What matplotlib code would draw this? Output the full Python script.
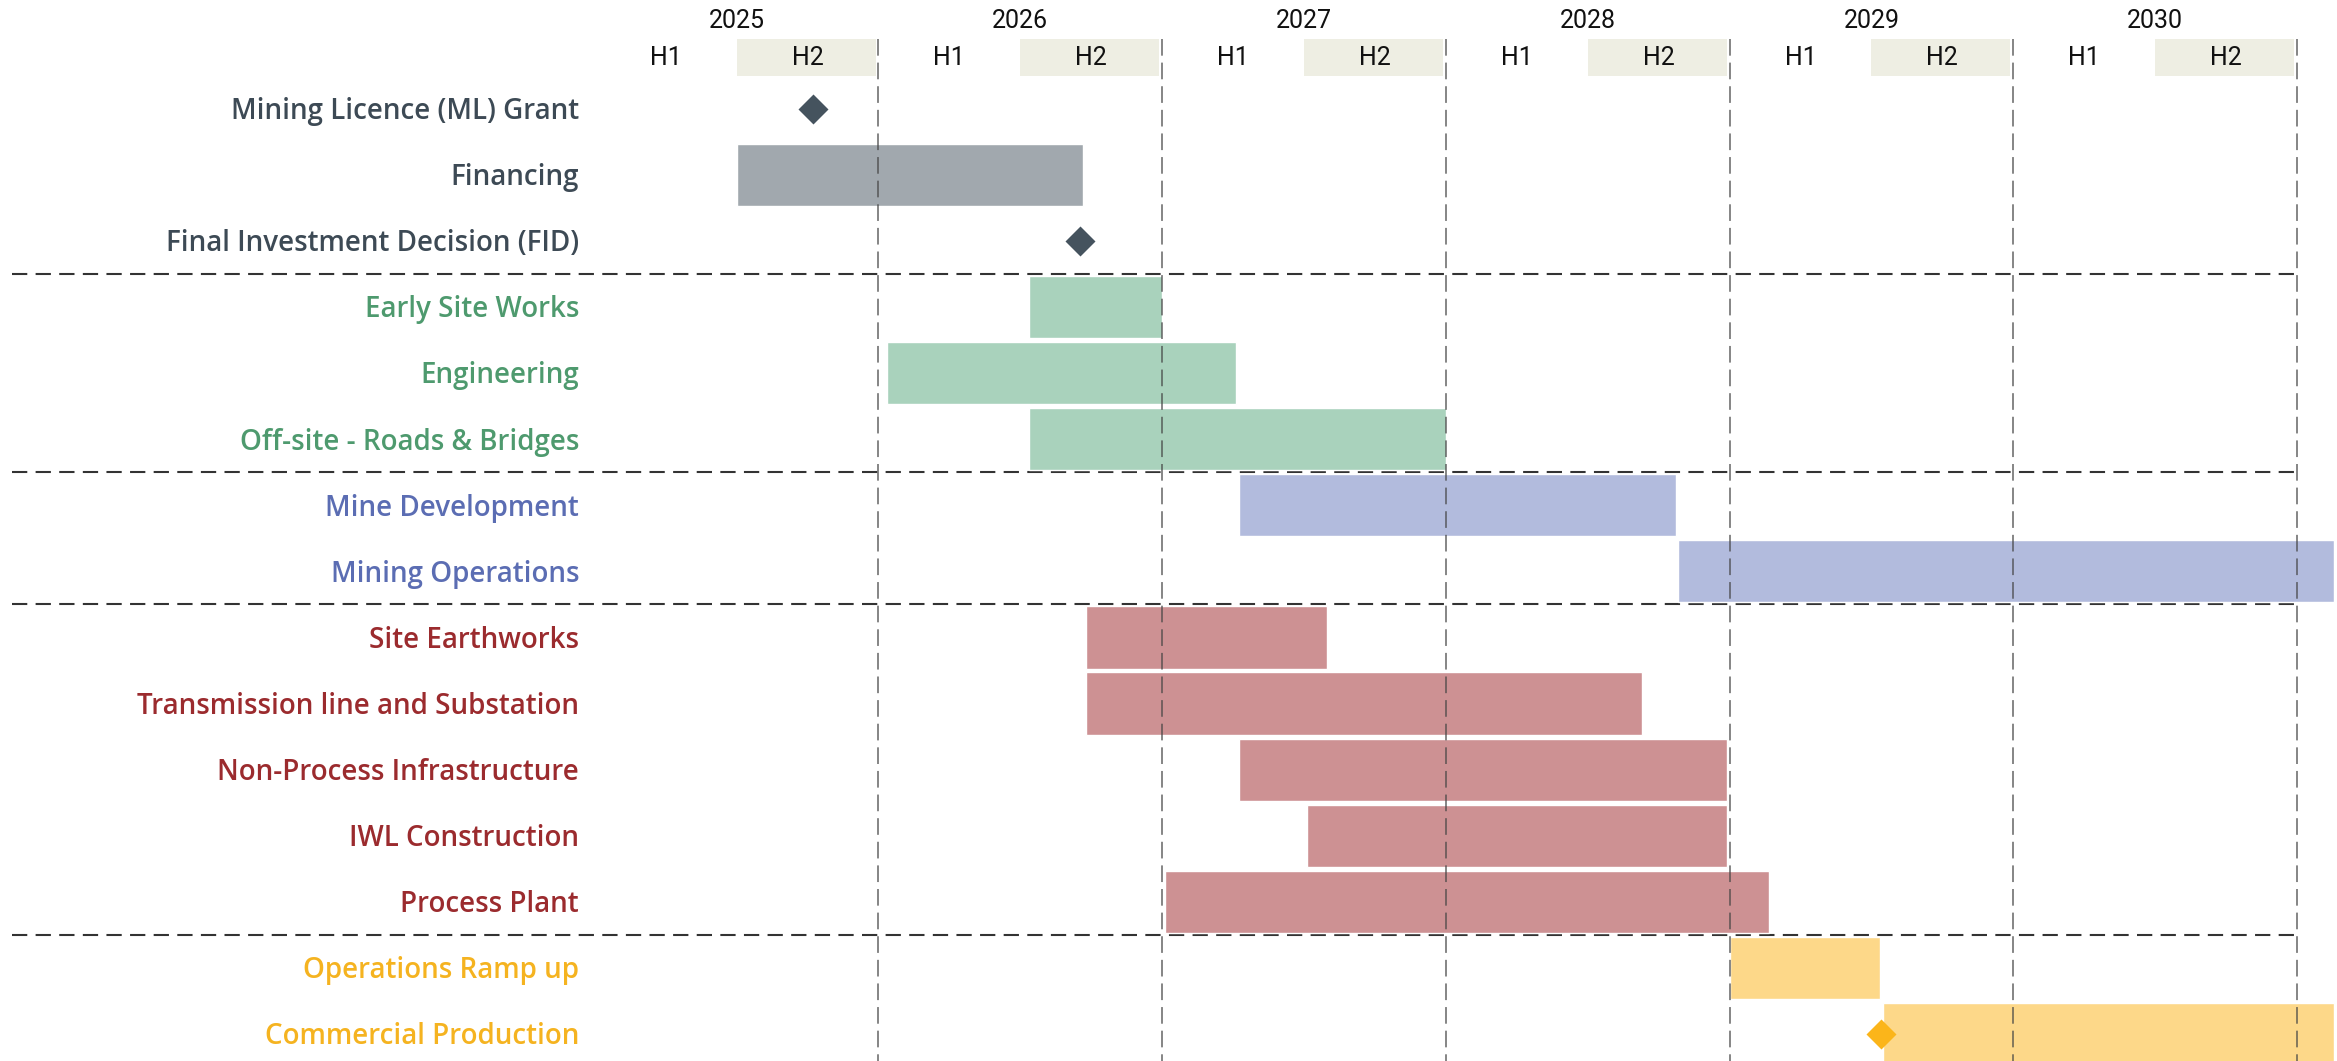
import matplotlib
matplotlib.use('Agg')
import matplotlib.pyplot as plt
from matplotlib.patches import Rectangle

plt.rcParams['lines.scale_dashes'] = False

# 任务数据
tasks = ['Mining Licence (ML) Grant', 'Financing', 'Final Investment Decision (FID)',
         'Early Site Works', 'Engineering', 'Off-site - Roads & Bridges',
         'Mine Development', 'Mining Operations',
         'Site Earthworks', 'Transmission line and Substation', 'Non-Process Infrastructure',
         'IWL Construction', 'Process Plant',
         'Operations Ramp up', 'Commercial Production']
groups = [0, 0, 0, 1, 1, 1, 2, 2, 3, 3, 3, 3, 3, 4, 4]
starts = [None, 2025.50, None, 2026.53, 2026.03, 2026.53, 2027.27, 2028.82,
          2026.73, 2026.73, 2027.27, 2027.51, 2027.01, 2029.00, 2029.54]
ends = [None, 2026.72, None, 2027.00, 2027.26, 2028.00, 2028.81, 2031.13,
        2027.58, 2028.69, 2028.99, 2028.99, 2029.14, 2029.53, 2031.13]
milestones = {0: 2025.77, 2: 2026.71, 14: 2029.535}
years = [2025, 2026, 2027, 2028, 2029, 2030]

# 各组颜色
label_colors = ['#3d4a55', '#4e9a6e', '#5b6db3', '#9b2b2e', '#f5b320']
bar_colors = ['#a1a8ae', '#a9d2bc', '#b2bbdd', '#cd9193', '#fdd889']
marker_colors = ['#45535e', '#4e9a6e', '#5b6db3', '#9b2b2e', '#fbb51a']

fig = plt.figure(figsize=(23.37, 10.61), dpi=100)
ax = fig.add_axes([0, 0, 1, 1])
ax.set_xlim(2022.904, 2031.141)
ax.set_ylim(14.414, -1.654)
ax.axis('off')

# 表头: 年份 + 半年
head_top, head_bot = -1.063, -0.5
for yr in years:
    ax.add_patch(Rectangle((yr + 0.5, head_top), 0.49, head_bot - head_top,
                           facecolor='#eeeee3', edgecolor='none', zorder=1))
    ax.text(yr + 0.5, -1.34, str(yr), ha='center', va='center', fontsize=18,
            family='Roboto', color='#111111')
    ax.text(yr + 0.25, -0.77, 'H1', ha='center', va='center', fontsize=18,
            family='Roboto', color='#111111')
    ax.text(yr + 0.75, -0.77, 'H2', ha='center', va='center', fontsize=18,
            family='Roboto', color='#111111')

# 年份分隔线
for yr in years:
    ax.plot([yr + 1, yr + 1], [head_top, 14.6], color='#444444', lw=1.3,
            alpha=0.7, dashes=(12, 5), zorder=3)

# 组分隔线
for i in range(1, len(groups)):
    if groups[i] != groups[i - 1]:
        ax.plot([2022.946, 2031.0], [i - 0.5, i - 0.5], color='#333333', lw=1.5,
                dashes=(11, 6), zorder=1, clip_on=False)

# 任务条和标签
for i, name in enumerate(tasks):
    g = groups[i]
    ax.text(2024.945, i + 0.04, name, ha='right', va='center', fontsize=20,
            family='Open Sans', weight='semibold', color=label_colors[g])
    if starts[i] is not None:
        ax.barh(i, ends[i] - starts[i], left=starts[i], height=0.94,
                color=bar_colors[g], edgecolor='white', lw=1, zorder=2)
    if i in milestones:
        ax.plot(milestones[i], i, marker='D', ms=15, color=marker_colors[g],
                mec='none', zorder=4)

fig.savefig('out.png', dpi=100)
